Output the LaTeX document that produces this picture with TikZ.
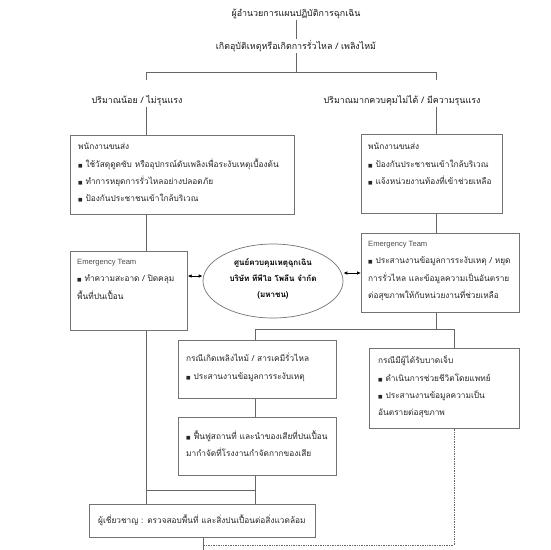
\documentclass[tikz,border=0pt]{standalone}
\usepackage{fontspec}
\usetikzlibrary{arrows.meta,shapes.geometric}
\setmainfont{Loma}[Script=Thai]
\setsansfont{Liberation Sans}
\newfontfamily\dejavu{DejaVu Sans}
\newcommand\bul{{\dejavu\fontsize{4.8}{4.8}\selectfont ■}\ }
\newcommand\thaisz{\fontsize{8.3}{17.3}\selectfont}
\begin{document}
\begin{tikzpicture}[x=1pt,y=-1pt,
  line/.style={draw=black!60, line width=0.7pt},
  box/.style={draw=black!55, line width=0.7pt, fill=white, anchor=north west, inner sep=0},
  txt/.style={anchor=north west, align=left, inner sep=0, text=black!85, font=\thaisz},
  head/.style={inner sep=1pt, text=black!90, font=\fontsize{8.9}{10}\selectfont},
  arr/.style={draw=black, line width=0.8pt, {Latex[length=4pt,width=3.6pt]}-{Latex[length=4pt,width=3.6pt]}}]
\useasboundingbox (0,0) rectangle (550,550);
\fill[white] (0,0) rectangle (550,550);

% headings
\node[head] (t1) at (296,14) {ผู้อำนวยการแผนปฏิบัติการฉุกเฉิน};
\node[head] (t2) at (296,46) {เกิดอุบัติเหตุหรือเกิดการรั่วไหล / เพลิงไหม้};
\node[head] (l1) at (137,101) {ปริมาณน้อย / ไม่รุนแรง};
\node[head] (l2) at (402,101) {ปริมาณมากควบคุมไม่ได้ / มีความรุนแรง};

% boxes
\node[box, minimum width=224pt, minimum height=79pt] (b1) at (70,135) {};
\node[box, minimum width=141pt, minimum height=79pt] (b2) at (361,134) {};
\node[box, minimum width=117pt, minimum height=79pt] (etl) at (70,251) {};
\node[box, minimum width=158pt, minimum height=79pt] (etr) at (361,233) {};
\node[draw=black!55, line width=0.7pt, ellipse, minimum width=140pt, minimum height=74pt, inner sep=0] (ell) at (273,281) {};
\node[box, minimum width=158pt, minimum height=58pt] (fire) at (178,340) {};
\node[box, minimum width=150pt, minimum height=80pt] (inj) at (369,348) {};
\node[box, minimum width=158pt, minimum height=58pt] (rest) at (178,417) {};
\node[box, minimum width=226pt, minimum height=33pt] (exp) at (89,504) {};

% texts
\node[txt] (b1t) at (78,143) {พนักงานขนส่ง\\ \bul ใช้วัสดุดูดซับ หรืออุปกรณ์ดับเพลิงเพื่อระงับเหตุเบื้องต้น\\ \bul ทำการหยุดการรั่วไหลอย่างปลอดภัย\\ \bul ป้องกันประชาชนเข้าใกล้บริเวณ};
\node[txt] (b2t) at (368,143) {พนักงานขนส่ง\\ \bul ป้องกันประชาชนเข้าใกล้บริเวณ\\ \bul แจ้งหน่วยงานท้องที่เข้าช่วยเหลือ};
\node[txt] (etlt) at (77,259) {{\sffamily\fontsize{7.6}{10}\selectfont\color{black!70}Emergency Team}\\ \bul ทำความสะอาด / ปิดคลุม\\ พื้นที่ปนเปื้อน};
\node[txt] (etrt) at (368,241) {{\sffamily\fontsize{7.6}{10}\selectfont\color{black!70}Emergency Team}\\ \bul ประสานงานข้อมูลการระงับเหตุ / หยุด\\ การรั่วไหล และข้อมูลความเป็นอันตราย\\ ต่อสุขภาพให้กับหน่วยงานที่ช่วยเหลือ};
\node[align=center, inner sep=0, text=black, font=\fontsize{8}{16}\selectfont\bfseries] (ellt) at (273,279) {ศูนย์ควบคุมเหตุฉุกเฉิน\\ บริษัท ทีพีไอ โพลีน จำกัด\\ (มหาชน)};
\node[txt] (firet) at (186,353) {กรณีเกิดเพลิงไหม้ / สารเคมีรั่วไหล\\ \bul ประสานงานข้อมูลการระงับเหตุ};
\node[txt] (injt) at (378,356) {กรณีมีผู้ได้รับบาดเจ็บ\\ \bul ดำเนินการช่วยชีวิตโดยแพทย์\\ \bul ประสานงานข้อมูลความเป็น\\ อันตรายต่อสุขภาพ};
\node[txt] (restt) at (186,430) {\bul ฟื้นฟูสถานที่ และนำของเสียที่ปนเปื้อน\\ มากำจัดที่โรงงานกำจัดกากของเสีย};
\node[txt, anchor=west] (expt) at (98,520.5) {ผู้เชี่ยวชาญ : ตรวจสอบพื้นที่ และสิ่งปนเปื้อนต่อสิ่งแวดล้อม};

% connectors
\coordinate (barL) at (146,72);
\coordinate (barR) at (436,72);
\coordinate (b2L) at (255,329);
\coordinate (b2R) at (454,329);
\coordinate (jn) at (255,490);
\coordinate (endp) at (203,550);
\coordinate (dotY) at (0,545);

\draw[line] (t1.south) -- (t2.north);
\draw[line] (t2.south) -- (t2.south |- barL);
\draw[line] (barL) -- (barR);
\draw[line] (barL) -- ++(0,8);
\draw[line] (barR) -- ++(0,8);
\draw[line] (barL |- l1.south) -- (barL |- b1.north);
\draw[line] (barR |- l2.south) -- (barR |- b2.north);
\draw[line] (barL |- b1.south) -- (barL |- etl.north);
\draw[line] (barR |- b2.south) -- (barR |- etr.north);
\draw[arr] (etl.east |- 0,276) -- (ell.west |- 0,276);
\draw[arr] (ell.east |- 0,273) -- (etr.west |- 0,273);
\draw[line] (barR |- etr.south) -- (barR |- b2L);
\draw[line] (b2L) -- (b2R);
\draw[line] (b2L) -- (b2L |- fire.north);
\draw[line] (b2R) -- (b2R |- inj.north);
\draw[line] (b2L |- fire.south) -- (b2L |- rest.north);
\draw[line] (barL |- etl.south) -- (barL |- exp.north);
\draw[line] (barL |- jn) -- (jn);
\draw[line] (b2L |- rest.south) -- (b2L |- exp.north);
\draw[line] (endp |- exp.south) -- (endp);
\draw[line, densely dotted] (b2R |- inj.south) -- (b2R |- dotY) -- (endp |- dotY);
\end{tikzpicture}
\end{document}
